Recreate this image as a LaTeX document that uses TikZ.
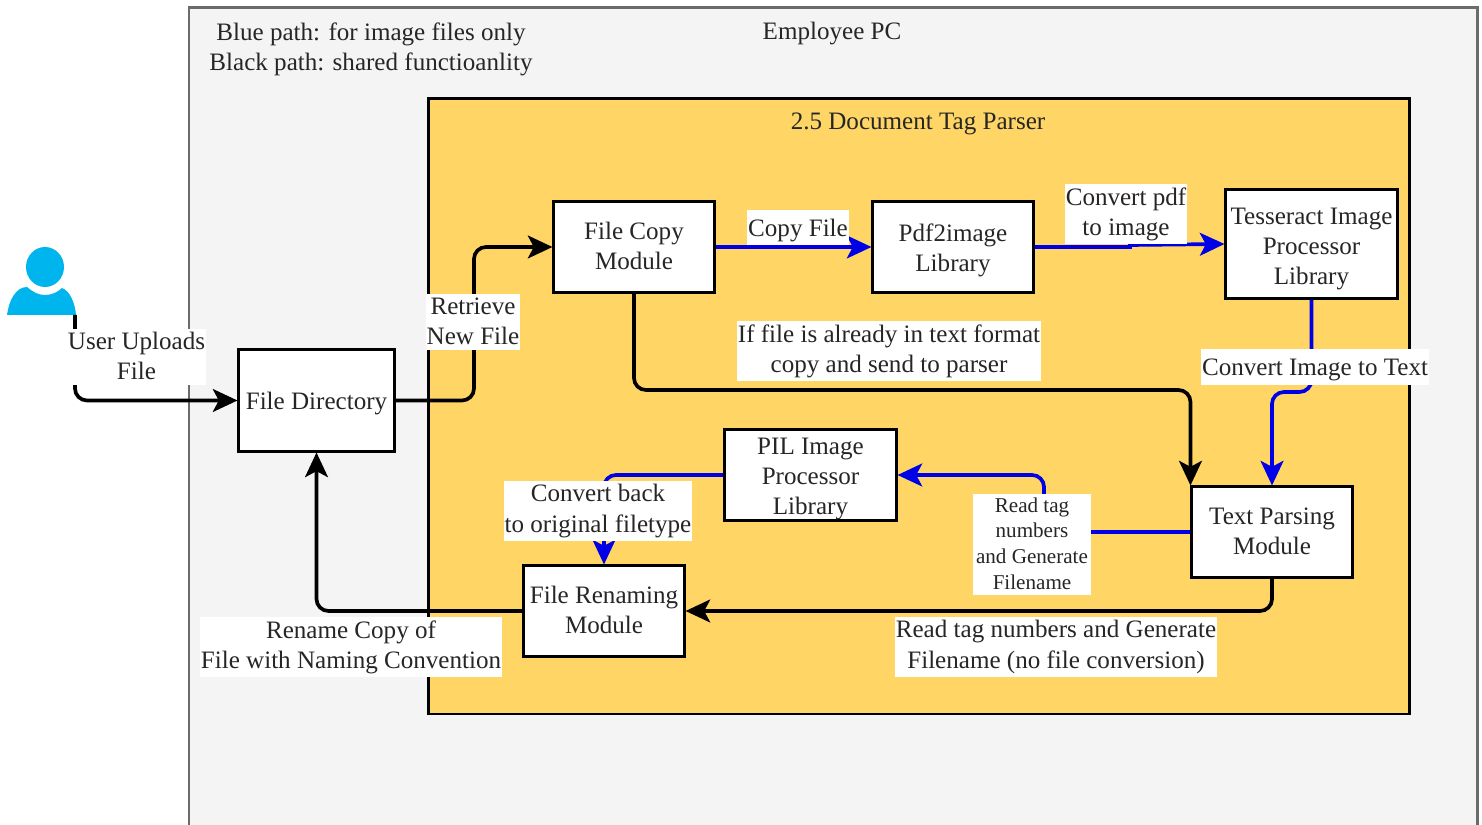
\documentclass[tikz,border=0pt]{standalone}
\usepackage{fontspec}
\setmainfont{Liberation Serif}
\usetikzlibrary{arrows.meta}
\definecolor{pcgray}{HTML}{F5F4F5}
\definecolor{pcedge}{HTML}{6B6B6B}
\definecolor{parseryellow}{HTML}{FFD666}
\definecolor{usercyan}{HTML}{00B4EE}
\definecolor{inktext}{HTML}{262626}
\definecolor{pathblue}{HTML}{0000E6}
\newcommand{\linerule}{\rule[-.6pt]{0pt}{7.1pt}}
\tikzset{
  plain/.style={align=center,inner sep=0pt,text=inktext,font=\fontsize{7.13}{8.58}\selectfont,
    execute at begin node=\linerule,execute at end node=\linerule},
  modbox/.style={plain,draw=black,line width=.85pt,fill=white},
  lbl/.style={plain,fill=white,inner xsep=.3pt,inner ysep=1pt},
  link/.style={line width=1.05pt,rounded corners=3.4pt,-{Stealth[length=7pt,width=6.5pt,inset=1.7pt]}},
  blink/.style={link,color=pathblue}
}
\begin{document}
\begin{tikzpicture}[x=.01cm,y=-.01cm]
  \useasboundingbox (0,0) rectangle (1482,825);
  \fill[pcgray] (189,8) rectangle (1477,825);
  \draw[pcedge,line width=.85pt] (189,825)--(189,8)--(1477,8)--(1477,825);
  \draw[black,fill=parseryellow,line width=.85pt] (428,99) rectangle (1409,714);
  \fill[usercyan] (45,267) ellipse [x radius=19,y radius=20];
  \fill[usercyan] (7,315) .. controls (9,300) and (16,287) .. (27,287)
    .. controls (33,292) and (38,295) .. (45,295) .. controls (52,295) and (58,292) .. (62,288)
    .. controls (70,291) and (75,303) .. (76,315) -- cycle;
  \coordinate (user) at (75,315);
  \foreach \nm/\cx/\cy/\bw/\bh/\txt in {%
    dirbox/316.5/400.5/1.55/1.01/{File Directory},
    copybox/634/247/1.60/.90/{File Copy\\Module},
    pdfbox/953/247/1.60/.90/{\rule{0pt}{7.05pt}Pdf2image\\Library},
    tessbox/1311.5/244/1.71/1.08/{\rule{0pt}{7.7pt}Tesseract Image\\Processor\\Library},
    pilbox/810.5/475/1.71/.90/{\rule{0pt}{7pt}PIL Image\\Processor\\Library},
    textbox/1272/532/1.60/.90/{Text Parsing\\Module},
    renamebox/604/611/1.60/.90/{File Renaming\\Module}}{%
      \node[modbox,minimum width=\bw cm,minimum height=\bh cm] (\nm) at (\cx,\cy) {\txt};
    }
  \draw[link] (user) |- (dirbox.west);
  \draw[link] (dirbox.east) -- (474,400.5) |- (copybox.west);
  \draw[blink] (copybox.east) -- (pdfbox.west);
  \draw[blink,sharp corners] (pdfbox.east) -- (1130,247) -- (1130,245) -- (tessbox.west);
  \draw[link] (copybox.south) -- (634,390) -| (textbox.north west);
  \draw[blink] (tessbox.south) -- (1311.5,392) -| (textbox.north);
  \draw[blink] (textbox.west) -- (1044,532) |- (pilbox.east);
  \draw[blink] (pilbox.west) -| (renamebox.north);
  \draw[link] (textbox.south) |- (renamebox.east);
  \draw[link] (renamebox.west) -| (dirbox.south);
  \foreach \nm/\cx/\cy/\txt in {%
    userlbl/136.5/357/{User Uploads\\File},
    retrievelbl/473/322/{Retrieve\\New File},
    copylbl/798/227.5/{Copy File},
    pdflbl/1126/214/{Convert pdf\\to image},
    alreadylbl/889/351/{If file is already in text format\\copy and send to parser},
    imgtextlbl/1315/367/{Convert Image to Text},
    backlbl/598/511/{Convert back\\to original filetype},
    namelbl/351/647/{Rename Copy of\\File with Naming Convention},
    taglbl/1056/647/{Read tag numbers and Generate\\Filename (no file conversion)}}{%
      \node[lbl] (\nm) at (\cx,\cy) {\txt};
    }
  \node[lbl,inner xsep=1pt,font=\fontsize{6}{7.3}\selectfont] (readlbl) at (1032,544.5) {Read tag\\numbers\\and Generate\\Filename};
  \node[plain] (legend) at (371,49) {Blue path: for image files only\\Black path: shared functioanlity};
  \node[plain] (pclbl) at (832,31) {Employee PC};
  \node[plain] (parserlbl) at (918,121) {2.5 Document Tag Parser};
\end{tikzpicture}
\end{document}
